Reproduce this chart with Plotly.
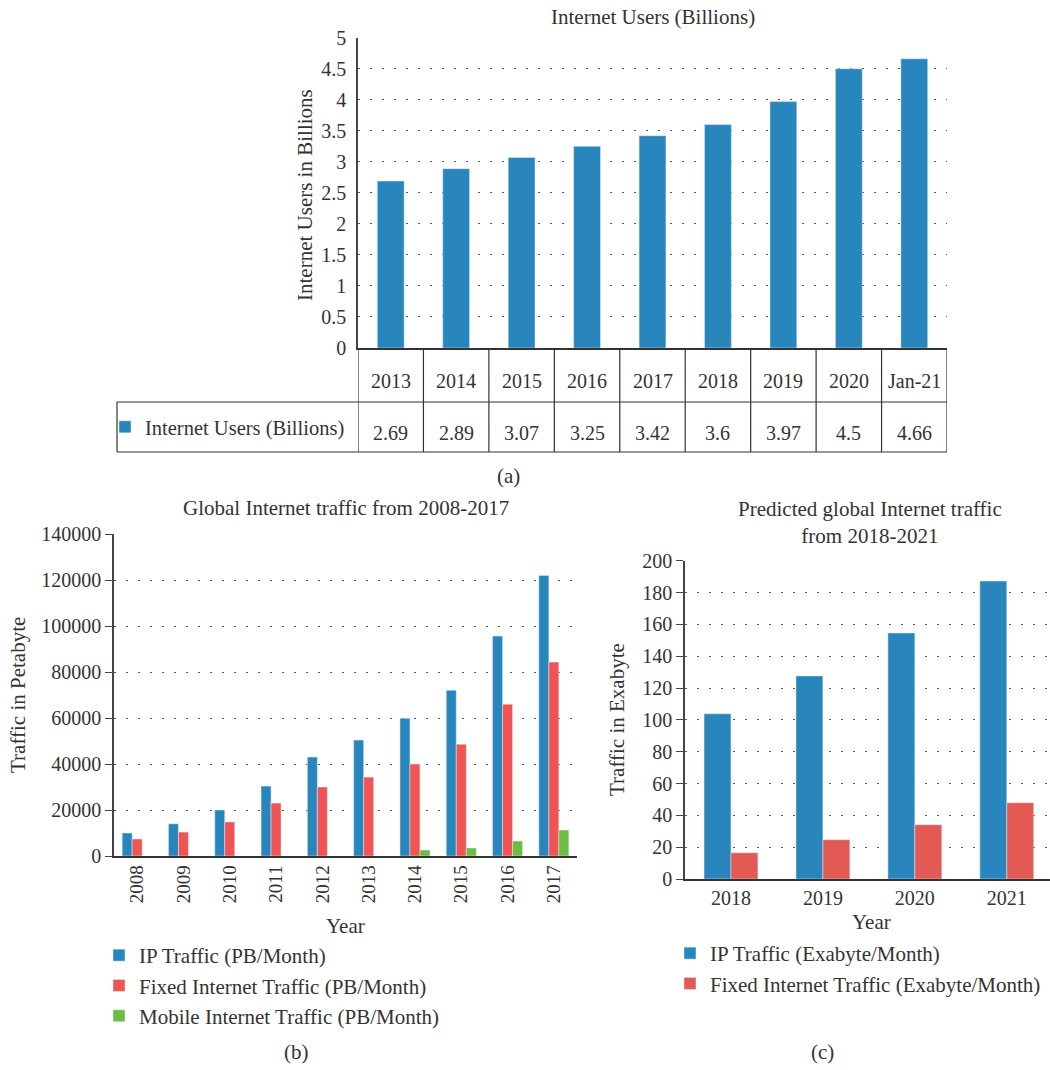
import plotly.graph_objects as go

# ---- data -------------------------------------------------------------
users_years = ["2013", "2014", "2015", "2016", "2017", "2018", "2019", "2020", "Jan-21"]
users_billions = [2.69, 2.89, 3.07, 3.25, 3.42, 3.6, 3.97, 4.5, 4.66]

traffic_years = ["2008", "2009", "2010", "2011", "2012", "2013", "2014", "2015", "2016", "2017"]
ip_traffic_pb = [10000, 14000, 20000, 30400, 43000, 50400, 59900, 72100, 95600, 122000]
fixed_traffic_pb = [7400, 10400, 14800, 23000, 30000, 34300, 40000, 48600, 66000, 84300]
mobile_traffic_pb = [None, None, None, None, None, None, 2600, 3500, 6500, 11300]

forecast_years = ["2018", "2019", "2020", "2021"]
ip_traffic_eb = [103.8, 127.6, 154.6, 187.2]
fixed_traffic_eb = [16.5, 24.7, 34.1, 47.9]

# ---- styling ----------------------------------------------------------
W, H = 1050, 1070
FONT = "Liberation Serif"
TXT = "#333333"
BLUE = "#2986bd"
RED = "#f05454"
RED_C = "#e35a54"
GREEN = "#6cbd45"
GRID_DASH = "1.5px,10.5px"


def px(x):
    return x / W


def py(y):
    return 1 - y / H


fig = go.Figure()

# (a) internet users
fig.add_trace(go.Bar(
    x=users_years, y=users_billions, name="Internet Users (Billions)",
    marker_color=BLUE, width=0.41, offset=-0.205,
    xaxis="x", yaxis="y", legend="legend",
))

# (b) global traffic 2008-2017
bw = 0.216
for name, vals, col, off in [
    ("IP Traffic (PB/Month)", ip_traffic_pb, BLUE, -1.5 * bw),
    ("Fixed Internet Traffic (PB/Month)", fixed_traffic_pb, RED, -0.5 * bw),
    ("Mobile Internet Traffic (PB/Month)", mobile_traffic_pb, GREEN, 0.5 * bw),
]:
    fig.add_trace(go.Bar(
        x=traffic_years, y=vals, name=name, marker_color=col,
        width=bw, offset=off, xaxis="x2", yaxis="y2", legend="legend2",
    ))

# (c) predicted traffic 2018-2021
cw = 0.293
for name, vals, col, off in [
    ("IP Traffic (Exabyte/Month)", ip_traffic_eb, BLUE, -cw),
    ("Fixed Internet Traffic (Exabyte/Month)", fixed_traffic_eb, RED_C, 0),
]:
    fig.add_trace(go.Bar(
        x=forecast_years, y=vals, name=name, marker_color=col,
        width=cw, offset=off, xaxis="x3", yaxis="y3", legend="legend3",
    ))

common_y = dict(
    showgrid=True, gridcolor="#555555", griddash=GRID_DASH, gridwidth=1,
    showline=True, linecolor="#444444", linewidth=1.5, zeroline=False,
    tickfont=dict(family=FONT, size=20, color=TXT), automargin=False,
)
common_x = dict(
    type="category", showgrid=False, showline=True, linecolor="#333333",
    linewidth=1.5, tickfont=dict(family=FONT, size=20, color=TXT),
    automargin=False,
)

fig.update_layout(
    width=W, height=H, autosize=False,
    margin=dict(l=0, r=0, t=0, b=0, pad=0),
    paper_bgcolor="white", plot_bgcolor="white",
    font=dict(family=FONT, color=TXT, size=20),
    barmode="overlay",
    xaxis=dict(common_x, domain=[px(358), px(947)], range=[-0.5, 8.5],
               showticklabels=False, ticks="", anchor="y"),
    yaxis=dict(common_y, domain=[py(348), py(37.7)], range=[0, 5], dtick=0.5,
               ticks="", ticklabelstandoff=6, anchor="x"),
    xaxis2=dict(common_x, domain=[px(114), px(577)], range=[-0.5, 9.5],
                tickangle=-90, ticks="", anchor="y2",
                tickfont=dict(family=FONT, size=19, color=TXT)),
    yaxis2=dict(common_y, domain=[py(856), py(534)], range=[0, 140000],
                dtick=20000, tickformat="d", ticks="outside", ticklen=7,
                tickcolor="#444444", anchor="x2"),
    xaxis3=dict(common_x, domain=[px(685), 1.0], range=[-0.5, 3.47],
                ticks="", anchor="y3"),
    yaxis3=dict(common_y, domain=[py(879), py(560.7)], range=[0, 200],
                dtick=20, ticks="outside", ticklen=7, tickcolor="#444444",
                anchor="x3"),
    legend=dict(x=px(105), y=py(427), xanchor="left", yanchor="middle",
                font=dict(family=FONT, size=20.5, color=TXT),
                bgcolor="rgba(0,0,0,0)"),
    legend2=dict(x=px(99), y=py(935), xanchor="left", yanchor="top",
                 font=dict(family=FONT, size=21, color=TXT),
                 bgcolor="rgba(0,0,0,0)"),
    legend3=dict(x=px(670), y=py(933), xanchor="left", yanchor="top",
                 font=dict(family=FONT, size=21, color=TXT),
                 bgcolor="rgba(0,0,0,0)"),
    showlegend=True,
)

# ---- table under panel (a) --------------------------------------------
line = dict(color="#333333", width=1.2)
shapes = [
    dict(type="line", xref="paper", yref="paper", x0=px(117), x1=px(947),
         y0=py(402), y1=py(402), line=line),
    dict(type="line", xref="paper", yref="paper", x0=px(117), x1=px(947),
         y0=py(452), y1=py(452), line=line),
    dict(type="line", xref="paper", yref="paper", x0=px(117), x1=px(117),
         y0=py(402), y1=py(452), line=line),
]
for i in range(len(users_years) + 1):
    shapes.append(dict(type="line", xref="x", yref="paper", x0=i - 0.5, x1=i - 0.5,
                       y0=py(348), y1=py(452), line=line))
fig.update_layout(shapes=shapes)

ann = []
for i, (yr, v) in enumerate(zip(users_years, users_billions)):
    ann.append(dict(x=i, y=py(381), xref="x", text=yr,
                    font=dict(family=FONT, size=20, color=TXT)))
    ann.append(dict(x=i, y=py(433), xref="x", text=f"{v:g}",
                    font=dict(family=FONT, size=20, color=TXT)))

# titles
ann += [
    dict(x=px(653), y=py(17), text="Internet Users (Billions)"),
    dict(x=px(346), y=py(508), text="Global Internet traffic from 2008-2017"),
    dict(x=px(870), y=py(522), text="Predicted global Internet traffic<br>from 2018-2021"),
    # axis titles
    dict(x=px(305), y=py(195), text="Internet Users in Billions", textangle=-90),
    dict(x=px(18), y=py(695), text="Traffic in Petabyte", textangle=-90),
    dict(x=px(617), y=py(720), text="Traffic in Exabyte", textangle=-90),
    dict(x=px(345), y=py(926), text="Year"),
    dict(x=px(871), y=py(922), text="Year"),
    # panel labels
    dict(x=px(508), y=py(476), text="(a)"),
    dict(x=px(296), y=py(1052), text="(b)"),
    dict(x=px(822), y=py(1052), text="(c)"),
]
for a in ann:
    a.setdefault("xref", "paper")
    a.setdefault("yref", "paper")
    a.setdefault("showarrow", False)
    a.setdefault("xanchor", "center")
    a.setdefault("yanchor", "middle")
    a.setdefault("font", dict(family=FONT, size=21, color=TXT))
fig.update_layout(annotations=ann)

fig.write_html("out.html")
